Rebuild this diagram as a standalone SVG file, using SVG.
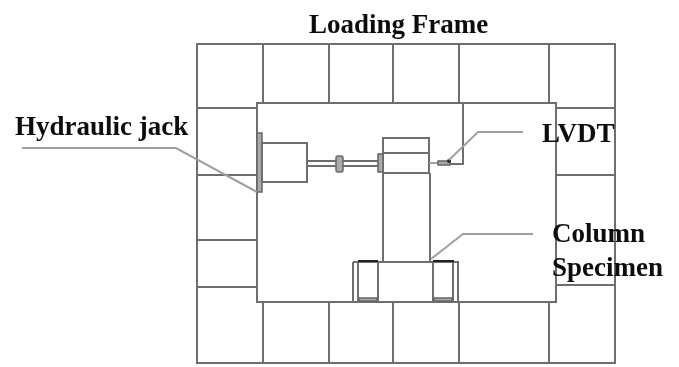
<svg xmlns="http://www.w3.org/2000/svg" width="679" height="367" viewBox="0 0 679 367">
<defs><filter id="b" x="-5%" y="-5%" width="110%" height="110%"><feGaussianBlur stdDeviation="0.45"/></filter></defs>
<style>
.l{fill:none;stroke:#6e6e6e;stroke-width:2}
.t{fill:none;stroke:#a0a0a0;stroke-width:2}
.k{fill:none;stroke:#222;stroke-width:2}
.g{fill:#aaa;stroke:#666;stroke-width:1.5}
text{font-family:"Liberation Serif",serif;font-weight:bold;font-size:27px;fill:#111}
</style>
<rect width="679" height="367" fill="#fff"/>
<g filter="url(#b)">
<g id="frame">
<path class="l" d="M197 44H615V363H197ZM257 103H556V302H257ZM197 108H257M556 108H615M197 175H257M556 175H615M197 240H257M197 287H257M556 285H615M263 44V103M329 44V103M393 44V103M459 44V103M549 44V103M263 302V363M329 302V363M393 302V363M459 302V363M549 302V363"/>
</g>
<g id="hydraulic-jack">
<path class="g" d="M257 133H262V192H257Z"/>
<path class="l" d="M262 143H307V182H262Z"/>
</g>
<g id="rod">
<path class="l" d="M307 161H378M307 166H378"/>
<rect class="g" x="336" y="156" width="7" height="16" rx="2"/>
</g>
<g id="column-specimen">
<path class="l" d="M383 153V138H429V153M383 153H429V173H383ZM383 173V262M430 173V262"/>
<path class="g" d="M378 154H383V172H378Z"/>
<path class="l" d="M353 262H458V302M353 262V302M358 262V302M378 262V302M433 262V302M453 262V302"/>
<path class="k" d="M358 261H378M433 261H454"/>
<path class="g" d="M359 298H377V301H359ZM434 298H452V301H434Z"/>
</g>
<g id="lvdt">
<path class="t" d="M429 163H438"/>
<path class="g" d="M438 161H450V165H438Z"/>
<path class="l" d="M450 164H463V103"/>
<circle cx="449" cy="161" r="2" fill="#222"/>
</g>
<g id="connectors">
<path class="t" d="M22 148H176L257 192"/>
<path class="t" d="M449 160L478 132H523"/>
<path class="t" d="M431 259L463 234H533"/>
</g>
<g id="labels">
<text x="309" y="33">Loading Frame</text>
<text x="15" y="135">Hydraulic jack</text>
<text x="542" y="142">LVDT</text>
<text x="552" y="242">Column</text>
<text x="552" y="276">Specimen</text>
</g>
</g>
</svg>
